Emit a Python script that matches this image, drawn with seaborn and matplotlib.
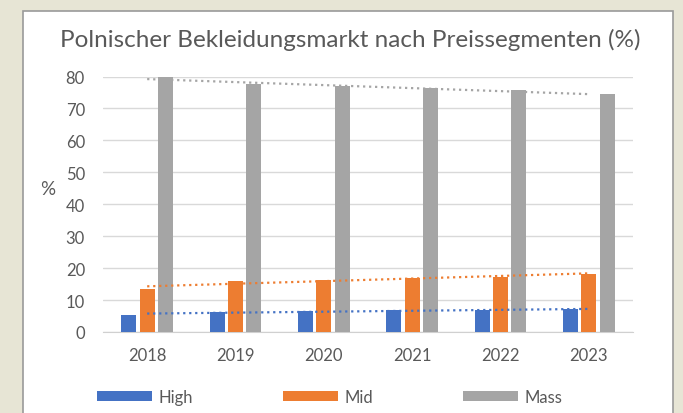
import numpy as np
import pandas as pd
import matplotlib.pyplot as plt
import seaborn as sns
from matplotlib.patches import Rectangle

years = ["2018", "2019", "2020", "2021", "2022", "2023"]
high = [5.4, 6.3, 6.6, 6.8, 6.8, 7.1]
mid = [13.4, 16.0, 16.3, 16.8, 17.3, 18.2]
mass = [80.0, 77.5, 76.9, 76.3, 75.7, 74.6]
segments = ["High", "Mid", "Mass"]
colors = ["#4472C4", "#ED7D31", "#A5A5A5"]

df = pd.DataFrame({"Jahr": years * 3,
                   "Segment": np.repeat(segments, len(years)),
                   "Wert": high + mid + mass})

sns.set_style("white")
plt.rcParams['font.family'] = ['Lato', 'DejaVu Sans']

fig = plt.figure(figsize=(6.83, 4.14), dpi=100)
fig.patch.set_facecolor("#e7e5d5")
# white chart panel
fig.patches.append(Rectangle((23 / 683, -0.01), 650 / 683, 1 - 12 / 414 + 0.01,
                             transform=fig.transFigure, facecolor="white",
                             edgecolor="#9a9a9a", linewidth=1.2, zorder=-5))

ax = fig.add_axes([103 / 683, 1 - 333 / 414, 530 / 683, (333 - 77.5) / 414])
ax.set_facecolor("none")

sns.barplot(data=df, x="Jahr", y="Wert", hue="Segment", palette=colors,
            width=0.62, gap=0.18, saturation=1, linewidth=0, edgecolor="none",
            ax=ax, zorder=3)

# linear trendlines (dotted)
xs = np.arange(len(years))
for vals, c in zip([high, mid, mass], colors):
    k, d = np.polyfit(xs, vals, 1)
    ax.plot(xs, k * xs + d, linestyle=(0, (1, 1.7)), color=c, linewidth=1.6, zorder=4)

ax.set_ylim(0, 80)
ax.set_xlim(-0.5, 5.5)
ax.set_yticks(range(0, 81, 10))
ax.yaxis.grid(True, color="#d9d9d9", linewidth=1)
ax.set_axisbelow(True)
for s in ["top", "right", "left"]:
    ax.spines[s].set_visible(False)
ax.spines["bottom"].set_color("#d0d0d0")
ax.tick_params(axis="both", length=0, labelsize=12, labelcolor="#595959")
ax.tick_params(axis="y", pad=13)
ax.tick_params(axis="x", pad=11)
ax.set_xlabel("")
ax.set_ylabel("%", rotation=0, fontsize=13.5, color="#595959", va="center", ha="center")
ax.yaxis.set_label_coords(-0.104, 0.56)

fig.text(0.513, 1 - 40 / 414, "Polnischer Bekleidungsmarkt nach Preissegmenten (%)",
         ha="center", va="center", fontsize=17.5, color="#595959")

ax.legend(loc="center", bbox_to_anchor=(0.428, -0.255), ncol=3, frameon=False,
          handlelength=3.3, handleheight=0.5, columnspacing=5.4, handletextpad=0.4,
          prop={"size": 12}, labelcolor="#595959")

fig.savefig("out.png", dpi=100, facecolor=fig.get_facecolor())
